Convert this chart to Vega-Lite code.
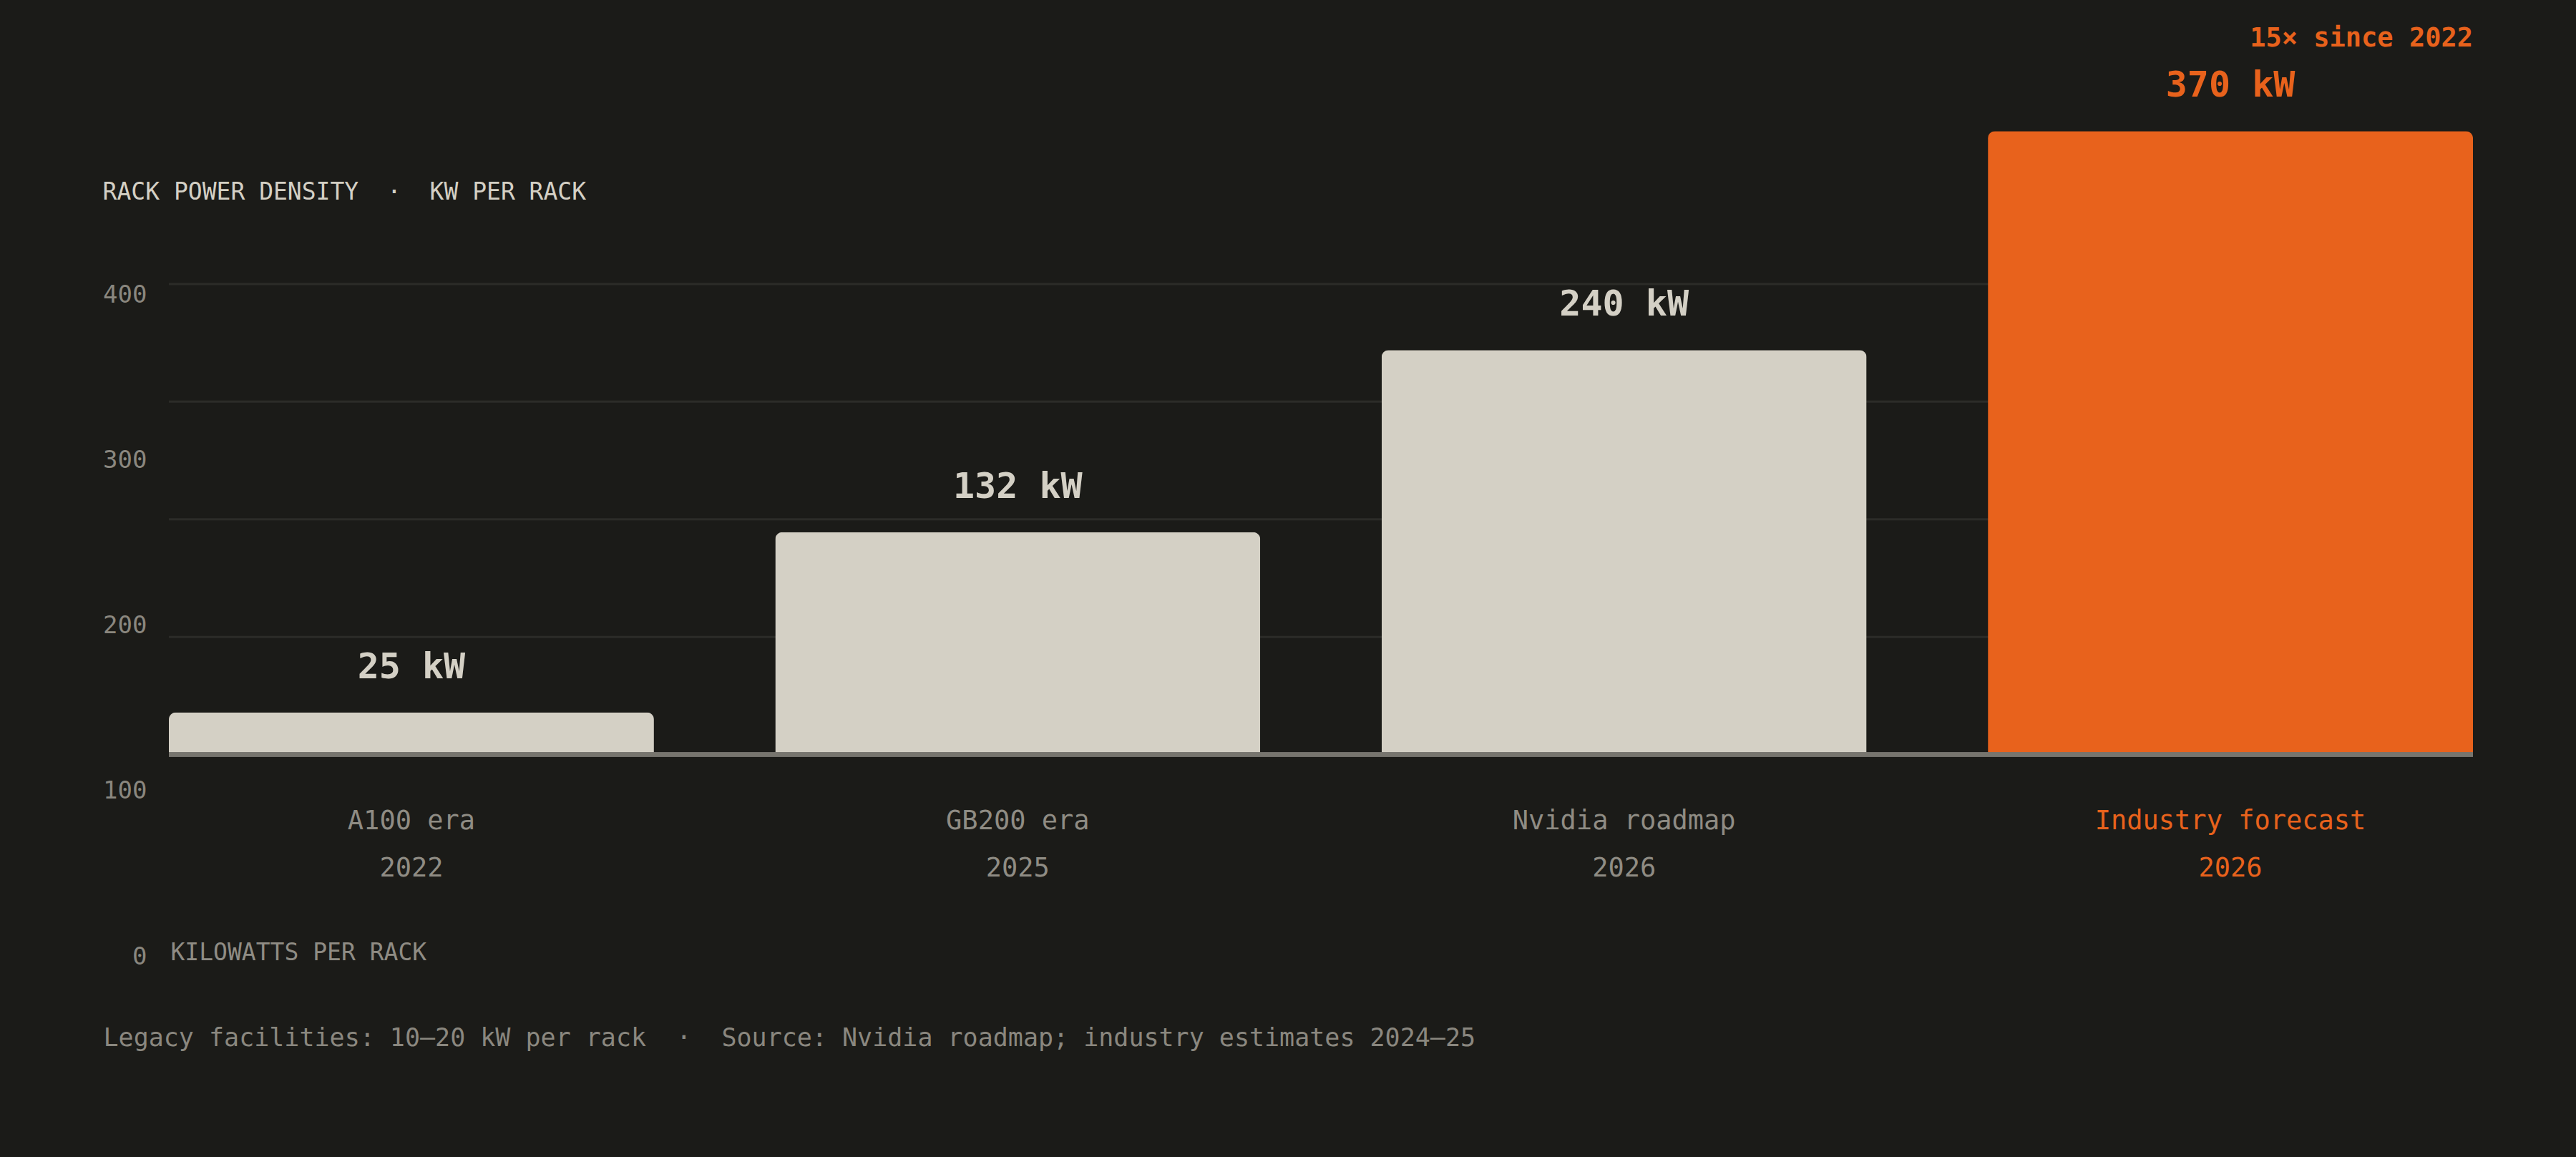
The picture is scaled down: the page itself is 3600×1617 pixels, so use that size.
{
  "$schema": "https://vega.github.io/schema/vega-lite/v6.json",
  "description": "Rack power density, kW per rack, four eras; last bar highlighted.",
  "background": "#1b1b18",
  "width": 3220,
  "height": 1222,
  "padding": {"left": 236, "right": 144, "top": 115, "bottom": 280},
  "autosize": {"type": "none"},
  "title": {
    "text": "RACK POWER DENSITY \u00a0·\u00a0 KW PER RACK",
    "anchor": "start",
    "frame": "bounds",
    "offset": 0,
    "dy": 251,
    "fontSize": 33,
    "fontWeight": "normal",
    "color": "#d4d0c5"
  },
  "config": {
    "font": "DejaVu Sans Mono",
    "view": {"stroke": null}
  },
  "resolve": {"scale": {"y": "independent"}, "axis": {"y": "independent"}},
  "layer": [
    {
      "data": {"values": [{"grid": 100}, {"grid": 200}, {"grid": 300}, {"grid": 400}]},
      "mark": {"type": "rule", "color": "#2c2c28", "strokeWidth": 3},
      "encoding": {
        "y": {
          "field": "grid",
          "type": "quantitative",
          "scale": {"domain": [-171.8, 571.5], "nice": false, "zero": false},
          "axis": null
        }
      }
    },
    {
      "data": {
        "values": [
          {"era": "A100 era", "year": "2022", "kw": 25, "highlight": false},
          {"era": "GB200 era", "year": "2025", "kw": 132, "highlight": false},
          {"era": "Nvidia roadmap", "year": "2026", "kw": 240, "highlight": false},
          {"era": "Industry forecast", "year": "2026", "kw": 370, "highlight": true, "note": "15× since 2022"}
        ]
      },
      "transform": [
        {"calculate": "datum.kw + ' kW'", "as": "value_label"},
        {"calculate": "datum.era + '\\n' + datum.year", "as": "cat_label"}
      ],
      "layer": [
        {
          "mark": {"type": "bar", "cornerRadiusTopLeft": 10, "cornerRadiusTopRight": 10},
          "encoding": {
            "x": {
              "field": "era",
              "type": "nominal",
              "sort": null,
              "scale": {"paddingInner": 0.2, "paddingOuter": 0},
              "axis": {
                "orient": "bottom",
                "labels": false,
                "ticks": false,
                "domain": false,
                "grid": false,
                "title": "KILOWATTS PER RACK",
                "titleAnchor": "start",
                "titleAlign": "left",
                "titleBaseline": "middle",
                "titleX": 2,
                "titleY": -6,
                "titleFontSize": 33,
                "titleFontWeight": "normal",
                "titleColor": "#8f8c84"
              }
            },
            "y": {
              "field": "kw",
              "type": "quantitative",
              "scale": {"domain": [-120, 399], "nice": false, "zero": false},
              "axis": null
            },
            "color": {
              "condition": {"test": "datum.highlight", "value": "#e8621c"},
              "value": "#d4d0c5"
            }
          }
        },
        {
          "mark": {"type": "rule", "color": "#77756e", "strokeWidth": 6},
          "encoding": {
            "y": {
              "datum": 0,
              "type": "quantitative",
              "scale": {"domain": [-120, 399], "nice": false, "zero": false},
              "axis": null
            }
          }
        },
        {
          "mark": {"type": "text", "baseline": "alphabetic", "dy": -48, "fontSize": 50, "fontWeight": "bold"},
          "encoding": {
            "x": {"field": "era", "type": "nominal", "sort": null},
            "y": {
              "field": "kw",
              "type": "quantitative",
              "scale": {"domain": [-120, 399], "nice": false, "zero": false},
              "axis": null
            },
            "text": {"field": "value_label"},
            "color": {
              "condition": {"test": "datum.highlight", "value": "#e8621c"},
              "value": "#d4d0c5"
            }
          }
        },
        {
          "mark": {"type": "text", "baseline": "middle", "lineBreak": "\n", "lineHeight": 66, "dy": 94, "fontSize": 37},
          "encoding": {
            "x": {"field": "era", "type": "nominal", "sort": null},
            "y": {
              "datum": 0,
              "type": "quantitative",
              "scale": {"domain": [-120, 399], "nice": false, "zero": false},
              "axis": null
            },
            "text": {"field": "cat_label"},
            "color": {
              "condition": {"test": "datum.highlight", "value": "#e8621c"},
              "value": "#8f8c84"
            }
          }
        },
        {
          "transform": [{"filter": "datum.note"}],
          "mark": {"type": "text", "align": "right", "baseline": "middle", "dy": -129, "fontSize": 37, "fontWeight": "bold", "color": "#e8621c"},
          "encoding": {
            "x": {"field": "era", "type": "nominal", "sort": null, "bandPosition": 1},
            "y": {
              "field": "kw",
              "type": "quantitative",
              "scale": {"domain": [-120, 399], "nice": false, "zero": false},
              "axis": null
            },
            "text": {"field": "note"}
          }
        }
      ]
    },
    {
      "data": {"values": [{"tick": 0}, {"tick": 100}, {"tick": 200}, {"tick": 300}, {"tick": 400}]},
      "mark": {"type": "tick", "opacity": 0},
      "encoding": {
        "y": {
          "field": "tick",
          "type": "quantitative",
          "scale": {"domain": [0, 529], "nice": false, "zero": false},
          "axis": {
            "orient": "left",
            "values": [0, 100, 200, 300, 400],
            "grid": false,
            "domain": false,
            "ticks": false,
            "tickSize": 0,
            "labelPadding": 31,
            "labelFlush": false,
            "labelOverlap": false,
            "labelBound": false,
            "labelFontSize": 34,
            "labelColor": "#8a877f",
            "title": "Legacy facilities: 10–20 kW per rack \u00a0·\u00a0 Source: Nvidia roadmap; industry estimates 2024–25",
            "titleAngle": 0,
            "titleAlign": "left",
            "titleBaseline": "middle",
            "titleX": -92,
            "titleY": 1335,
            "titleFontSize": 35,
            "titleFontWeight": "normal",
            "titleColor": "#8a877f"
          }
        }
      }
    }
  ]
}
